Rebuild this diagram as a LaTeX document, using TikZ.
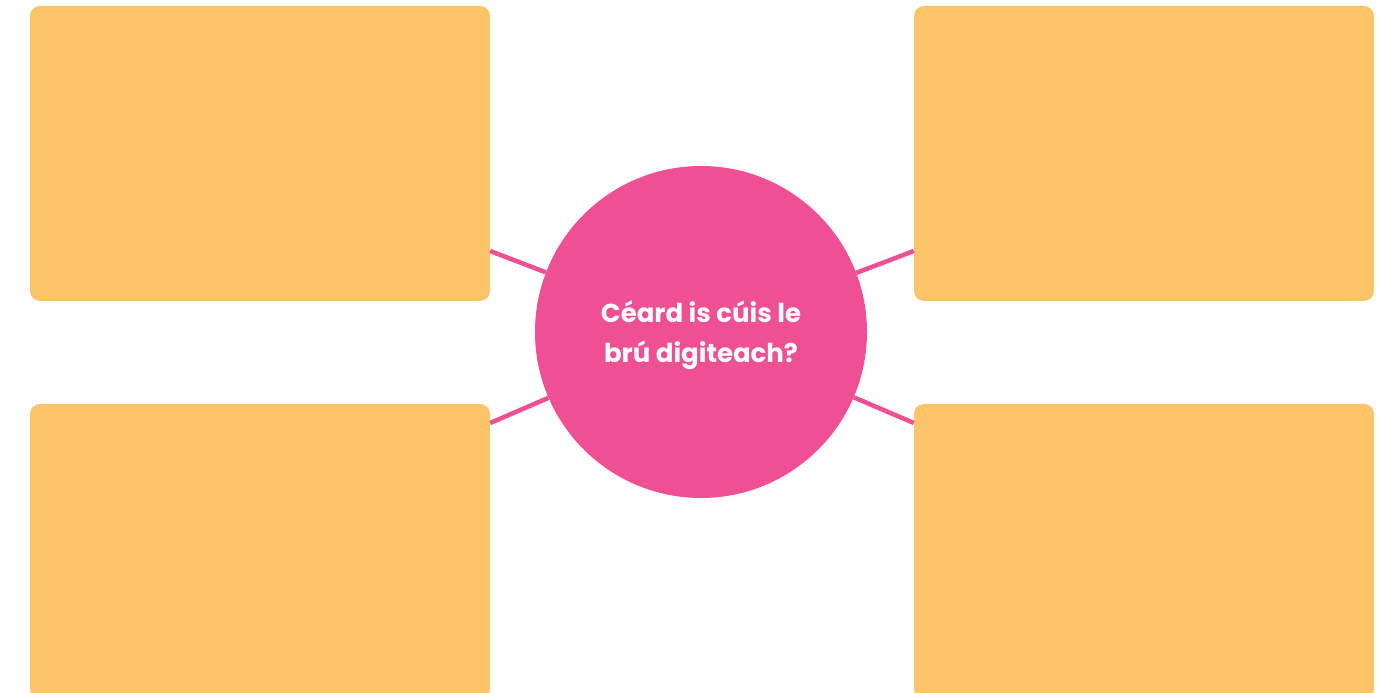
\documentclass[tikz,border=0pt]{standalone}
\usepackage{fontspec}
\setsansfont{Poppins}
\usepackage{tikz}
\usetikzlibrary{positioning, calc}
\definecolor{idea}{RGB}{253,196,106}
\definecolor{hub}{RGB}{238,80,147}

\begin{document}
\begin{tikzpicture}[x=1pt,y=1pt,
    ideabox/.style={fill=idea, rounded corners=10pt, minimum width=460pt, minimum height=295pt, inner sep=0pt},
    link/.style={draw=hub, line width=4.5pt}]
    \clip (0,0) rectangle (1392,693);
    \node[fill=hub, circle, minimum size=332pt, inner sep=0pt] (Q) at (701,361) {};
    \node[align=center, text=white, font=\sffamily\bfseries\fontsize{26}{40}\selectfont] (QT) at (701,358) {Céard is cúis le\\brú digiteach?};

    \node[ideabox] (TL) at (260,539.5) {};
    \node[ideabox] (TR) at (1144,539.5) {};
    \node[ideabox] (BL) at (260,141.5) {};
    \node[ideabox] (BR) at (1144,141.5) {};

    \draw[link] ($(TL.south east)!0.17!(TL.north east)$) -- (Q);
    \draw[link] ($(TR.south west)!0.17!(TR.north west)$) -- (Q);
    \draw[link] ($(BL.north east)!0.065!(BL.south east)$) -- (Q);
    \draw[link] ($(BR.north west)!0.065!(BR.south west)$) -- (Q);
  \end{tikzpicture}
\end{document}
